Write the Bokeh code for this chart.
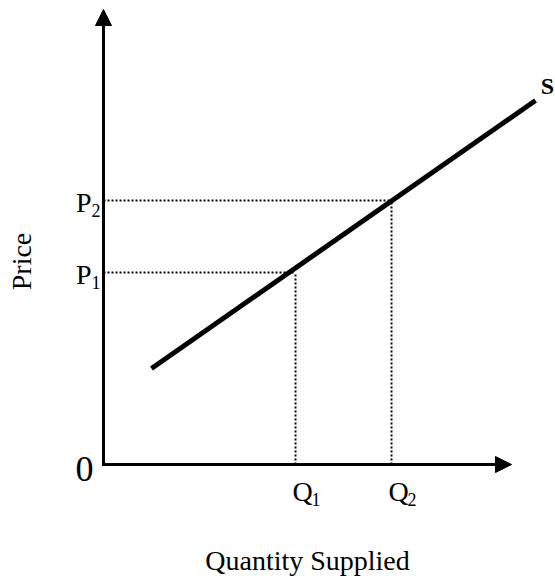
from bokeh.plotting import figure
from bokeh.models import Arrow, NormalHead, Range1d
from bokeh.core.properties import value
from bokeh.embed import file_html
from bokeh.resources import INLINE

# ---- data (abstract units) ----
supply_q = [1.2, 10.8]
supply_p = [2.4, 9.1]
q_points = [4.8, 7.2]
p_points = [4.8, 6.6]
q_labels = ["Q", "Q"]
p_labels = ["P", "P"]
subs = ["1", "2"]
x_axis_end = 10.2
y_axis_end = 11.375
x_title = "Quantity Supplied"
y_title = "Price"
curve_label = "S"
origin_label = "0"

FONT = value("Liberation Serif")

p = figure(width=555, height=583, output_backend="svg", toolbar_location=None,
           x_range=Range1d(-2.575, 11.3), y_range=Range1d(-2.975, 11.6),
           min_border=0, min_border_left=0, min_border_right=0,
           min_border_top=0, min_border_bottom=0)
p.axis.visible = False
p.grid.visible = False
p.outline_line_color = None
p.background_fill_color = "white"
p.border_fill_color = "white"

# axes with arrows
p.add_layout(Arrow(end=NormalHead(size=16, fill_color="black", line_color="black", line_width=1),
                   x_start=0, y_start=-0.03, x_end=0, y_end=y_axis_end,
                   line_width=3, line_color="black"))
p.add_layout(Arrow(end=NormalHead(size=16, fill_color="black", line_color="black", line_width=1),
                   x_start=-0.03, y_start=0, x_end=x_axis_end, y_end=0,
                   line_width=3, line_color="black"))

# dotted guide lines
for q, pr in zip(q_points, p_points):
    p.line([0, q], [pr, pr], line_color="black", line_width=2, line_dash="2 2")
    p.line([q, q], [0, pr], line_color="black", line_width=2, line_dash="2 2")

# supply curve
p.line(supply_q, supply_p, line_color="black", line_width=5, line_cap="butt")

# P labels
p.text(x=[-0.3] * len(p_points), y=[v - 0.35 + 0.295 for v in p_points], text=p_labels,
       text_font=FONT, text_font_size="28px", text_align="right",
       text_baseline="alphabetic", text_color="black")
p.text(x=[-0.3] * len(p_points), y=[v - 0.45 + 0.19 for v in p_points], text=subs,
       text_font=FONT, text_font_size="18px", text_align="left",
       text_baseline="alphabetic", text_color="black")

# Q labels
p.text(x=[v - 0.075 for v in q_points], y=[-0.975 + 0.295] * len(q_points), text=q_labels,
       text_font=FONT, text_font_size="28px", text_align="left",
       text_baseline="alphabetic", text_color="black")
p.text(x=[v + 0.4 for v in q_points], y=[-1.075 + 0.19] * len(q_points), text=subs,
       text_font=FONT, text_font_size="18px", text_align="left",
       text_baseline="alphabetic", text_color="black")

# origin
p.text(x=[-0.475], y=[-0.5 + 0.38], text=[origin_label], text_font=FONT,
       text_font_size="36px", text_align="center", text_baseline="alphabetic",
       text_color="black")

# S label
p.text(x=[11.1], y=[9.225 + 0.25], text=[curve_label], text_font=FONT,
       text_font_size="24px", text_font_style="bold", text_align="center",
       text_baseline="alphabetic", text_color="black")

# axis titles
p.text(x=[5.1], y=[-2.7 + 0.295], text=[x_title], text_font=FONT, text_font_size="28px",
       text_align="center", text_baseline="alphabetic", text_color="black")
p.text(x=[-2.05], y=[5.075], text=[y_title], text_font=FONT, text_font_size="28px",
       text_align="center", text_baseline="middle", angle=1.5708, text_color="black")

open("out.html", "w").write(file_html(p, INLINE))
